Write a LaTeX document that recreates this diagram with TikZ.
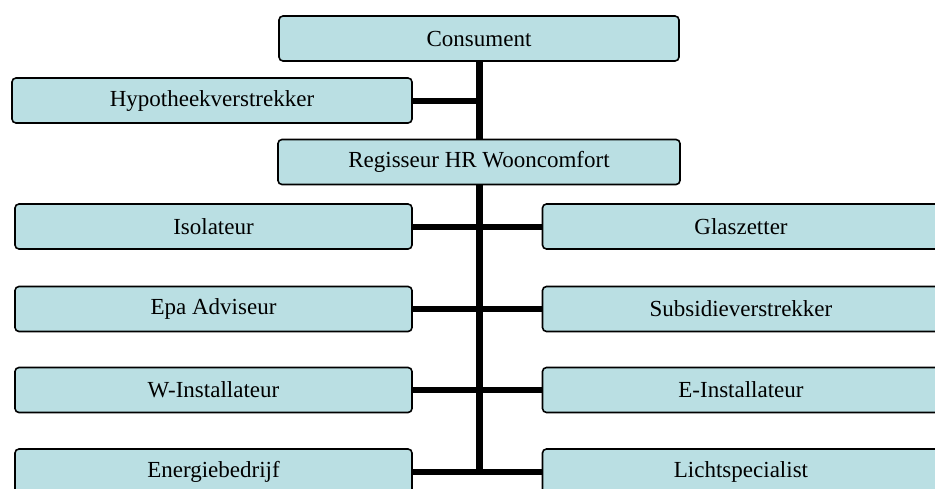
\documentclass[tikz,border=0pt]{standalone}
\usepackage{fontspec}
\setmainfont{Liberation Serif}
\usetikzlibrary{positioning}
\definecolor{roleblue}{RGB}{186,223,227}
\tikzset{role/.style={draw=black, line width=1.6pt, fill=roleblue, rounded corners=4pt,
    minimum width=397pt, minimum height=45pt, inner sep=0pt,
    font=\fontsize{23}{27}\selectfont}}
\tikzset{link/.style={line width=6pt}}
\tikzset{trunk/.style={line width=7pt}}

\begin{document}
\begin{tikzpicture}[x=1pt, y=-1pt]
        % Page of 935 x 488
        \useasboundingbox (0,0) rectangle (935,488);
        \clip (0,0) rectangle (935,488);
        % Top of the chart
        \node[role, minimum width=400pt] (cons) at (479,38.5) {Consument};
        \node[role, minimum width=400pt] (hyp) at (212,100.5) {Hypotheekverstrekker};
        \node[role, minimum width=402pt] (reg) at (479,162) {Regisseur HR Wooncomfort};
        % Partners, left and right of the line
        \foreach \n/\lname/\rname/\y in {
          1/Isolateur/Glaszetter/226.5,
          2/Epa Adviseur/Subsidieverstrekker/309,
          3/W-Installateur/E-Installateur/390,
          4/Energiebedrijf/Lichtspecialist/471.5%
        } {
          \node[role] (l\n) at (213.5,\y) {\lname};
          \node[role] (r\n) at (741,\y) {\rname};
          \draw[link] (l\n.east) -- (r\n.west);
        }
        % Main line
        \coordinate (bottom) at (reg |- l4);
        \draw[trunk] (cons.south) -- (reg.north);
        \draw[trunk] (reg.south) -- (bottom);
        \draw[link] (hyp.east) -- (hyp.east -| cons);
        \end{tikzpicture}
\end{document}
